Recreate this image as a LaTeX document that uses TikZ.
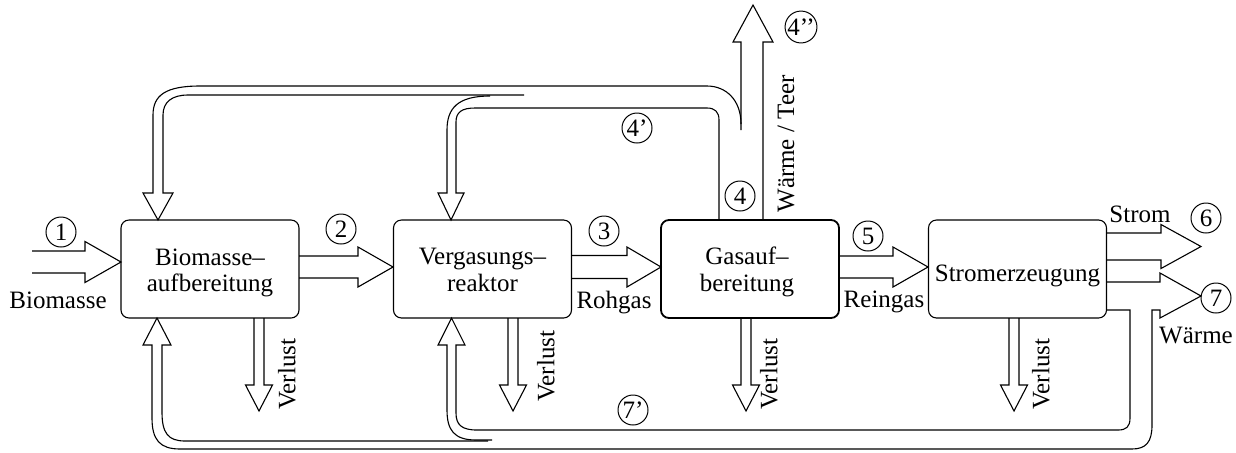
\documentclass[tikz,border=0pt]{standalone}
\usepackage{fontspec}
\setmainfont{Liberation Serif}
\newcommand\blkR[6]{% x0, tip x, yc, half shaft, half head, head length
  \draw (#1,{#3-#4}) -- ({#2-#6},{#3-#4}) -- ({#2-#6},{#3-#5}) -- (#2,#3)
        -- ({#2-#6},{#3+#5}) -- ({#2-#6},{#3+#4}) -- (#1,{#3+#4});}
\newcommand\blkD[6]{% xc, y0, tip y, half shaft, half head, head length
  \draw ({#1-#4},#2) -- ({#1-#4},{#3-#6}) -- ({#1-#5},{#3-#6}) -- (#1,#3)
        -- ({#1+#5},{#3-#6}) -- ({#1+#4},{#3-#6}) -- ({#1+#4},#2);}
\begin{document}
\begin{tikzpicture}[x=0.5pt,y=-0.5pt,line width=0.55pt,line join=miter,
  box/.style={draw,rounded corners=4pt,minimum width=89pt,minimum height=49pt,inner sep=0pt},
  txt/.style={font=\fontsize{12.5pt}{13.5pt}\selectfont,inner sep=0pt},
  num/.style={draw,circle,minimum size=15pt,inner sep=0pt,line width=0.5pt,
              font=\fontsize{12.5pt}{13.5pt}\selectfont}]
\useasboundingbox (0,0) rectangle (1236,452);

% boxes
\node[box] (b1) at (210,269) {};
\node[box] (b2) at (482.5,269) {};
\node[box,line width=0.9pt] (b3) at (750,269) {};
\node[box] (b4) at (1017.5,269) {};

\node[txt,anchor=base] (t1a) at (210,265) {Biomasse–};
\node[txt,anchor=base] (t1b) at (210,291) {aufbereitung};
\node[txt,anchor=base] (t2a) at (482.5,264) {Vergasungs–};
\node[txt,anchor=base] (t2b) at (482.5,291) {reaktor};
\node[txt,anchor=base] (t3a) at (747,264) {Gasauf–};
\node[txt,anchor=base] (t3b) at (747,291) {bereitung};
\node[txt,anchor=base] (t4a) at (1017.5,281) {Stromerzeugung};

% main flow arrows
\blkR{32}{121}{262}{11}{20.5}{36}
\blkR{299}{393}{267}{11}{20}{35}
\blkR{572}{661}{267}{11.5}{20}{34}
\blkR{839}{928}{267}{11}{20}{35}
\blkR{1107}{1201}{246.5}{13.5}{22}{40}

% Verlust arrows
\blkD{259}{318}{411}{5}{13.5}{26}
\blkD{513}{318}{411}{5}{13.5}{26}
\blkD{746}{318}{411}{5}{13.5}{26}
\blkD{1014}{318}{411}{5}{13.5}{26}

% 4'' arrow upward
\draw (763,220) -- (763,42) -- (773,42) -- (753,5) -- (733,42) -- (741,42) -- (741,130);

% top loop: outer branch to box 1
\draw (741,124) .. controls (741,100) and (726,86) .. (707,86) -- (200,86)
  .. controls (166,86) and (153,95) .. (153,115) -- (153,193) -- (143,193) -- (158,220)
  -- (173,193) -- (163,193) -- (163,115) .. controls (163,102) and (172,95) .. (188,95) -- (524,95);
% top loop: inner branch to box 2
\draw (719,220) -- (719,120) .. controls (719,112) and (715,108) .. (707,108) -- (475,108)
  .. controls (462,108) and (456,112) .. (456,122) -- (456,193) -- (464,193) -- (451,220)
  -- (438,193) -- (447,193) -- (447,130) .. controls (447,108) and (458,96) .. (490,96);

% Waerme arrow and bottom loop (outer, to box 1)
\draw (1107,282) -- (1160,282) -- (1160,273) -- (1201,296) -- (1160,318) -- (1160,310)
  -- (1152,310) -- (1152,425) .. controls (1152,442) and (1146,449) .. (1132,449) -- (180,449)
  .. controls (160,449) and (152,440) .. (152,418) -- (152,345) -- (143,345) -- (157,318)
  -- (171,345) -- (162,345) -- (162,412) .. controls (162,433) and (168,441) .. (185,441) -- (488,441);
% bottom loop (inner, to box 2)
\draw (1107,310) -- (1130,310) -- (1130,418) .. controls (1130,427) and (1126,430) .. (1118,430)
  -- (477,430) .. controls (462,430) and (456,425) .. (456,413) -- (456,345) -- (465,345)
  -- (451.5,318) -- (438,345) -- (447,345) -- (447,410) .. controls (447,430) and (454,440) .. (476,440) -- (492,440);

% circled numbers
\node[num] (n1) at (61,232) {1};
\node[num] (n2) at (341,229) {2};
\node[num] (n3) at (604,231) {3};
\node[num] (n4) at (740,196) {4};
\node[num] (n4a) at (637,128) {4’};
\node[num] (n4b) at (801,27) {4’’};
\node[num] (n5) at (868,236) {5};
\node[num] (n6) at (1206,218) {6};
\node[num] (n7) at (1216,298) {7};
\node[num] (n7a) at (633,410) {7’};

% labels
\node[txt,anchor=base] (l1) at (58,308) {Biomasse};
\node[txt,anchor=base] (l2) at (614,308) {Rohgas};
\node[txt,anchor=base] (l3) at (884,307) {Reingas};
\node[txt,anchor=base] (l4) at (1140,222) {Strom};
\node[txt,anchor=base] (l5) at (1196,343) {Wärme};
\node[txt,rotate=90] (v1) at (287,374) {Verlust};
\node[txt,rotate=90] (v2) at (546,366) {Verlust};
\node[txt,rotate=90] (v3) at (769,374) {Verlust};
\node[txt,rotate=90] (v4) at (1041,374) {Verlust};
\node[txt,rotate=90] (wt) at (786,144) {Wärme / Teer};
\end{tikzpicture}
\end{document}
